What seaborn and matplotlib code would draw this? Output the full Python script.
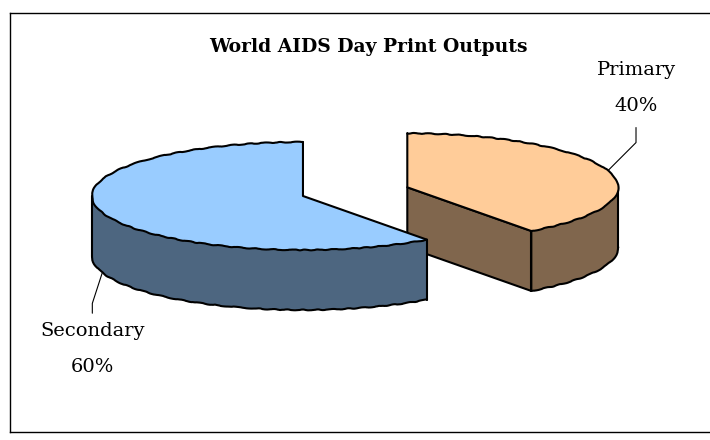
import numpy as np
import matplotlib
matplotlib.use("Agg")
import matplotlib.pyplot as plt
import seaborn as sns

# Share of print outputs by school level
categories = ["Primary", "Secondary"]
shares = [40, 60]
pct_labels = ["40%", "60%"]
top_colors = ["#FFCC99", "#99CCFF"]
side_colors = ["#80664D", "#4D6680"]
chart_title = "World AIDS Day Print Outputs"

sns.set_theme(style="white")
plt.rcParams["font.family"] = ["DejaVu Serif", "DejaVu Sans"]

fig = plt.figure(figsize=(7.1, 4.4), dpi=100)
ax = fig.add_axes([9.5 / 710, 8 / 440, (715 - 9.5) / 710, (432 - 12.7) / 440])

explode = [0.52, 0.0]
depth = 1.11          # thickness of the disc, in y units
edge_lw = 1.5
base_z = [1.0, 3.0]   # the exploded slice sits behind the larger one
wobble = dict(scale=0.4, length=20, randomness=3)

# top faces of the pie (outlines are added below)
top_wedges, _ = ax.pie(shares, explode=explode, colors=top_colors,
                       startangle=90, counterclock=False,
                       wedgeprops=dict(linewidth=0))


def rim(w, ang_deg, dy=0.0):
    a = np.deg2rad(ang_deg)
    cx, cy = w.center
    return cx + w.r * np.cos(a), cy + w.r * np.sin(a) + dy


def edge(xs, ys, z, rough=False):
    ln, = ax.plot(xs, ys, color="black", linewidth=edge_lw,
                  solid_joinstyle="round", solid_capstyle="round", zorder=z)
    if rough:
        ln.set_sketch_params(**wobble)


for i, w in enumerate(top_wedges):
    z = base_z[i]
    w.set_zorder(z + 0.5)
    t1, t2 = round(w.theta1, 6), round(w.theta2, 6)
    cx, cy = w.center

    # curved wall on the front half of the rim
    for k in range(-2, 3):
        lo, hi = max(t1, -180 + 360 * k), min(t2, 360 * k)
        if hi - lo > 1e-6:
            ang = np.linspace(lo, hi, 240)
            tx, ty = rim(w, ang)
            bx, by = rim(w, ang, -depth)
            ax.fill(np.r_[tx, bx[::-1]], np.r_[ty, by[::-1]],
                    facecolor=side_colors[i], edgecolor="none", zorder=z)
            edge(bx, by, z + 0.2, rough=True)
            edge([tx[0], bx[0]], [ty[0], by[0]], z + 0.2)
            edge([tx[-1], bx[-1]], [ty[-1], by[-1]], z + 0.2)

    # flat cut faces turned toward the viewer
    for t, normal in ((t1, t1 - 90), (t2, t2 + 90)):
        if np.sin(np.deg2rad(normal)) < -1e-6:
            rx, ry = rim(w, t)
            ax.fill([cx, rx, rx, cx], [cy, ry, ry - depth, cy - depth],
                    facecolor=side_colors[i], edgecolor="black",
                    linewidth=edge_lw, joinstyle="round", zorder=z + 0.1)

    # outline of the top face: slightly rough rim, straight radii
    ang = np.linspace(t1, t2, 400)
    edge(*rim(w, ang), z + 0.7, rough=True)
    r1, r2 = rim(w, t1), rim(w, t2)
    edge([r1[0], cx, r2[0]], [r1[1], cy, r2[1]], z + 0.7)

# category labels with leader lines
label_offsets = [(20.2, 59.4), (-7.2, -54.7)]
leader_styles = ["angle,angleA=90,angleB=45,rad=0",
                 "angle,angleA=90,angleB=72,rad=0"]
shrink_a = [6.5, 3.6]
for i, w in enumerate(top_wedges):
    mid = (w.theta1 + w.theta2) / 2
    px, py = rim(w, mid, -depth if np.sin(np.deg2rad(mid)) < 0 else 0.0)
    ax.annotate(f"{categories[i]}\n{pct_labels[i]}", xy=(px, py),
                xytext=label_offsets[i], textcoords="offset points",
                ha="center", va="center", fontsize=14, linespacing=2.3,
                multialignment="center", color="black", zorder=10,
                arrowprops=dict(arrowstyle="-", color="black", linewidth=0.8,
                                connectionstyle=leader_styles[i],
                                shrinkA=shrink_a[i], shrinkB=0))

ax.set_aspect("auto")
ax.set_xlim(-1.391, 1.953)
ax.set_ylim(-4.370, 3.394)
ax.set_frame_on(True)
for sp in ax.spines.values():
    sp.set_visible(True)
    sp.set_color("black")
    sp.set_linewidth(1.0)
ax.set_xticks([])
ax.set_yticks([])

fig.text(368 / 710, 1 - 52 / 440, chart_title, ha="center", va="baseline",
         fontsize=13.5, fontweight="bold", color="black")

fig.savefig("out.png", dpi=100, facecolor="white")
